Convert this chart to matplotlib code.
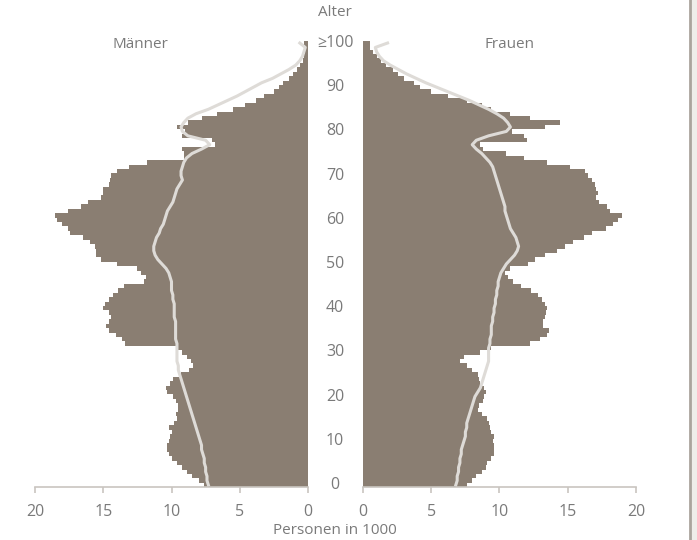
import matplotlib
matplotlib.use("Agg")
import matplotlib.pyplot as plt
from matplotlib.transforms import blended_transform_factory
from matplotlib.lines import Line2D
from matplotlib.patches import Rectangle

plt.rcParams['font.family'] = ['Open Sans', 'DejaVu Sans']

# ages 0 .. 100 (100 = "100 und älter")
ages = list(range(0, 101))

# Männer, Personen in 1000 (bars)
maenner = [7.6, 8.0, 8.5, 8.9, 9.2, 9.6, 10.0, 10.2, 10.3, 10.3,
           10.2, 10.1, 10.0, 10.2, 9.8, 9.6, 9.7, 9.5, 9.5, 9.7,
           9.9, 10.3, 10.4, 10.1, 9.9, 9.3, 8.7, 8.4, 8.6, 8.9,
           9.2, 9.6, 13.4, 13.6, 14.1, 14.6, 14.8, 14.6, 14.4, 14.6,
           15.0, 14.9, 14.6, 14.3, 13.9, 13.5, 12.0, 11.9, 12.2, 12.5,
           14.0, 15.2, 15.5, 15.5, 15.6, 16.0, 16.5, 17.4, 17.6, 18.0,
           18.4, 18.5, 17.6, 16.6, 16.1, 15.2, 15.0, 15.0, 14.6, 14.5,
           14.4, 14.0, 13.1, 11.8, 9.1, 9.1, 9.2, 6.8, 7.0, 9.2,
           9.0, 9.6, 8.8, 7.8, 6.7, 5.5, 4.6, 3.8, 3.2, 2.5,
           2.1, 1.8, 1.4, 1.1, 0.8, 0.6, 0.4, 0.3, 0.25, 0.2,
           0.3]

# Frauen, Personen in 1000 (bars)
frauen = [7.6, 8.0, 8.3, 8.7, 9.0, 9.1, 9.4, 9.6, 9.6, 9.6,
          9.5, 9.6, 9.4, 9.3, 9.2, 9.1, 8.7, 8.4, 8.5, 8.8,
          8.9, 9.0, 8.9, 8.6, 8.5, 8.4, 8.0, 7.6, 7.1, 7.4,
          8.6, 9.4, 12.2, 13.0, 13.5, 13.6, 13.2, 13.2, 13.3, 13.4,
          13.5, 13.3, 13.1, 12.8, 12.3, 11.6, 11.0, 10.6, 10.4, 10.8,
          12.1, 12.6, 13.3, 14.2, 14.8, 15.4, 16.2, 16.8, 17.8, 18.3,
          18.7, 19.0, 18.1, 17.9, 17.3, 17.1, 17.2, 17.1, 17.0, 16.8,
          16.5, 16.3, 15.2, 13.5, 11.8, 10.5, 8.8, 8.6, 12.0, 11.8,
          10.9, 13.3, 14.4, 12.2, 10.8, 9.4, 8.7, 7.6, 6.2, 5.0,
          4.2, 3.7, 3.0, 2.6, 2.2, 1.7, 1.3, 1.0, 0.7, 0.5,
          0.5]

# comparison line (light grey)
maenner_linie = [7.3, 7.4, 7.4, 7.5, 7.5, 7.6, 7.6, 7.7, 7.8, 7.8,
                 7.9, 8.0, 8.1, 8.2, 8.3, 8.4, 8.5, 8.6, 8.7, 8.8,
                 8.9, 9.0, 9.1, 9.2, 9.3, 9.4, 9.5, 9.5, 9.6, 9.6,
                 9.6, 9.6, 9.6, 9.7, 9.7, 9.7, 9.7, 9.7, 9.8, 9.8,
                 9.8, 9.8, 9.9, 9.9, 10.0, 10.0, 10.0, 10.1, 10.2, 10.4,
                 10.7, 11.0, 11.2, 11.3, 11.3, 11.2, 11.1, 10.9, 10.8, 10.6,
                 10.5, 10.4, 10.3, 10.1, 9.9, 9.8, 9.7, 9.6, 9.4, 9.2,
                 9.3, 9.3, 9.2, 9.1, 8.9, 8.5, 7.8, 7.2, 7.5, 8.8,
                 9.2, 9.3, 9.1, 8.8, 8.2, 7.3, 6.6, 5.9, 5.2, 4.6,
                 4.0, 3.4, 2.6, 2.0, 1.4, 0.9, 0.6, 0.4, 0.3, 0.2,
                 0.6]
frauen_linie = [6.8, 6.9, 6.9, 7.0, 7.0, 7.1, 7.1, 7.2, 7.2, 7.3,
                7.4, 7.5, 7.5, 7.6, 7.6, 7.7, 7.8, 7.9, 8.0, 8.1,
                8.2, 8.4, 8.6, 8.7, 8.8, 8.9, 9.0, 9.1, 9.2, 9.2,
                9.2, 9.2, 9.3, 9.3, 9.4, 9.4, 9.4, 9.5, 9.5, 9.6,
                9.6, 9.7, 9.7, 9.8, 9.8, 9.9, 9.9, 10.0, 10.1, 10.3,
                10.5, 10.8, 11.1, 11.3, 11.4, 11.3, 11.2, 11.0, 10.8, 10.7,
                10.6, 10.5, 10.4, 10.4, 10.3, 10.2, 10.1, 10.0, 9.9, 9.8,
                9.7, 9.6, 9.5, 9.3, 9.0, 8.7, 8.3, 8.0, 8.3, 9.2,
                10.5, 10.8, 10.6, 10.3, 9.8, 9.2, 8.5, 7.8, 7.0, 6.2,
                5.4, 4.6, 3.9, 3.2, 2.6, 2.0, 1.5, 1.2, 1.0, 0.9,
                1.8]

age_ticks = [0, 10, 20, 30, 40, 50, 60, 70, 80, 90, 100]
age_labels = ['0', '10', '20', '30', '40', '50', '60', '70', '80', '90', '≥100']
x_ticks = [0, 5, 10, 15, 20]

bar_color = '#8a7e72'
line_color = '#dedbd7'
text_color = '#7a7a7a'
axis_color = '#c9c5c0'

W, H = 697, 540
fig = plt.figure(figsize=(W / 100, H / 100), dpi=100)

bottom = (H - 487.2) / H
height = (487.2 - 38.6) / H
axL = fig.add_axes([35 / W, bottom, 273 / W, height])
axR = fig.add_axes([363 / W, bottom, 273 / W, height])

axL.barh(ages, maenner, height=1.0, color=bar_color, linewidth=0)
axR.barh(ages, frauen, height=1.0, color=bar_color, linewidth=0)
axL.plot(maenner_linie, ages, color=line_color, lw=2.2, solid_joinstyle='round')
axR.plot(frauen_linie, ages, color=line_color, lw=2.2, solid_joinstyle='round')

axL.set_xlim(20, 0)
axR.set_xlim(0, 20)
for ax in (axL, axR):
    ax.set_ylim(-0.5, 101)
    ax.set_yticks([])
    ax.set_xticks(x_ticks)
    for s in ('top', 'left', 'right'):
        ax.spines[s].set_visible(False)
    ax.spines['bottom'].set_color(axis_color)
    ax.spines['bottom'].set_linewidth(1.2)
    ax.tick_params(axis='x', colors=axis_color, length=4, width=1.2, pad=8,
                   labelsize=11.5, labelcolor=text_color)
    ax.patch.set_alpha(0)

# age labels in the middle
tr = blended_transform_factory(fig.transFigure, axL.transData)
for a, lab in zip(age_ticks, age_labels):
    axL.text(335 / W, a, lab, transform=tr, ha='center', va='center',
             fontsize=11.5, color=text_color, clip_on=False)

fig.text(335 / W, 1 - 12 / H, 'Alter', ha='center', va='center', fontsize=11, color=text_color)
fig.text(140 / W, 1 - 45 / H, 'Männer', ha='center', va='center', fontsize=11, color=text_color)
fig.text(510 / W, 1 - 45 / H, 'Frauen', ha='center', va='center', fontsize=11, color=text_color)
fig.text(335 / W, 1 - 531 / H, 'Personen in 1000', ha='center', va='center', fontsize=11, color=text_color)

# right frame line
fig.add_artist(Rectangle((691 / W, 0), 6 / W, 1, transform=fig.transFigure,
                         color='#efedea', lw=0))
fig.add_artist(Line2D([690 / W, 690 / W], [0, 1], transform=fig.transFigure,
                      color='#aaa49d', lw=2))

fig.savefig('out.png', dpi=100)
